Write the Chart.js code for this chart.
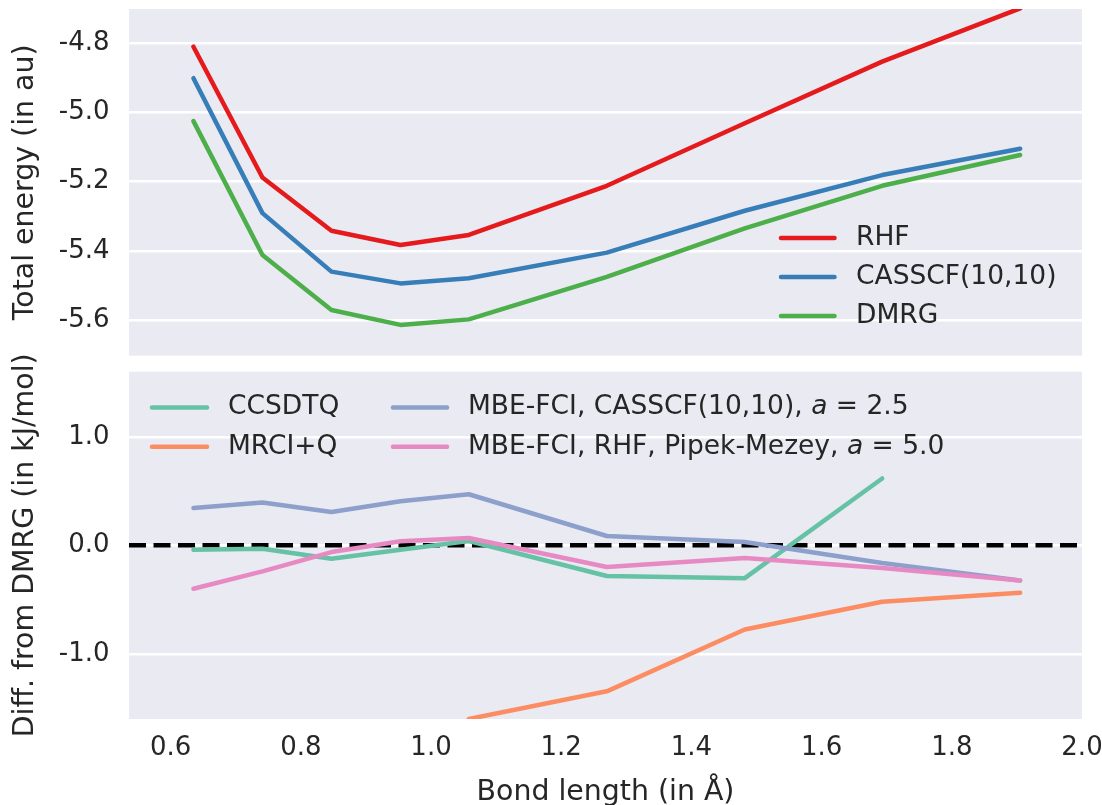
<!DOCTYPE html>
<html><head><meta charset="utf-8">
<script src="https://cdn.jsdelivr.net/npm/chart.js@4.4.1/dist/chart.umd.min.js"></script>
<style>
html,body{margin:0;padding:0;background:#fff;}
#wrap{position:relative;width:1102px;height:805px;overflow:hidden;}
#c1{position:absolute;left:0;top:0;}
#c2{position:absolute;left:0;top:335px;}
</style></head><body>
<div id="wrap"><canvas id="c1" width="1102" height="365"></canvas><canvas id="c2" width="1102" height="470"></canvas></div>
<script>
// ---- data ----
const bondLengths = [0.635, 0.741, 0.847, 0.953, 1.058, 1.270, 1.482, 1.693, 1.905];

const energyLabels = ['RHF', 'CASSCF(10,10)', 'DMRG'];
const rhfEnergy     = [-4.810, -5.188, -5.342, -5.383, -5.354, -5.212, -5.031, -4.853, -4.699];
const casscfEnergy  = [-4.901, -5.291, -5.460, -5.494, -5.479, -5.405, -5.284, -5.181, -5.105];
const dmrgEnergy    = [-5.025, -5.412, -5.571, -5.614, -5.598, -5.475, -5.335, -5.212, -5.123];

const diffLabels = ['CCSDTQ', 'MRCI+Q', 'MBE-FCI, CASSCF(10,10), a = 2.5', 'MBE-FCI, RHF, Pipek-Mezey, a = 5.0'];
const ccsdtqDiff   = [-0.040, -0.031, -0.123, -0.040, 0.040, -0.282, -0.302, 0.616, null];
const mrciqDiff    = [null, null, null, null, -1.60, -1.345, -0.776, -0.520, -0.437];
const mbeCasDiff   = [0.344, 0.394, 0.308, 0.406, 0.471, 0.086, 0.031, -0.163, -0.323];
const mbeRhfDiff   = [-0.400, -0.240, -0.062, 0.037, 0.068, -0.200, -0.117, -0.209, -0.323];
const referenceLine = 0.0;

const xTicks = [0.6, 0.8, 1.0, 1.2, 1.4, 1.6, 1.8, 2.0];
const energyTicks = [-4.8, -5.0, -5.2, -5.4, -5.6];
const diffTicks = [1.0, 0.0, -1.0];
const xLimits = [0.536, 2.0];
const energyLimits = [-5.703, -4.701];
const diffLimits = [-1.6, 1.6];

// ---- styling ----
const TXT = '#262626';
const FONT = '"DejaVu Sans", "Liberation Sans", sans-serif';
const LEG_SIZE = 26.5;
const energyColors = ['#E41A1C', '#377EB8', '#4DAF4A'];
const diffColors = ['#66C2A5', '#FC8D62', '#8DA0CB', '#E78AC3'];

function pts(ys) { return bondLengths.map((x, i) => ({x: x, y: ys[i]})); }

const bgPlugin = {
  id: 'bg',
  beforeDraw(chart) {
    const a = chart.chartArea, ctx = chart.ctx;
    ctx.save(); ctx.fillStyle = '#EAEAF2';
    ctx.fillRect(a.left, a.top, a.right - a.left, a.bottom - a.top);
    ctx.restore();
  }
};

function drawLabel(ctx, text, x, y) {
  const m = text.match(/^(.*, )a( = .*)$/);
  ctx.font = LEG_SIZE + 'px ' + FONT;
  if (!m) { ctx.fillText(text, x, y); return; }
  ctx.fillText(m[1], x, y);
  let cx = x + ctx.measureText(m[1]).width;
  ctx.font = 'italic ' + LEG_SIZE + 'px ' + FONT;
  ctx.fillText('a', cx, y);
  cx += ctx.measureText('a').width;
  ctx.font = LEG_SIZE + 'px ' + FONT;
  ctx.fillText(m[2], cx, y);
}

function legendPlugin(entries) {
  return {
    id: 'customLegend',
    afterDraw(chart) {
      const ctx = chart.ctx;
      ctx.save();
      entries.forEach(e => {
        const ds = chart.data.datasets[e.index];
        ctx.strokeStyle = ds.borderColor; ctx.lineWidth = 4.5; ctx.lineCap = 'round';
        ctx.beginPath(); ctx.moveTo(e.x1, e.y); ctx.lineTo(e.x2, e.y); ctx.stroke();
        ctx.fillStyle = TXT; ctx.textBaseline = 'middle'; ctx.textAlign = 'left';
        drawLabel(ctx, ds.label, e.tx, e.y);
      });
      ctx.restore();
    }
  };
}

function lineDs(label, ys, color, order) {
  return {label: label, data: pts(ys), borderColor: color, backgroundColor: color,
    borderWidth: 4.5, pointRadius: 0, pointHoverRadius: 0, tension: 0, fill: false,
    borderCapStyle: 'round', borderJoinStyle: 'round', clip: 0, order: order, spanGaps: false};
}

function noPad(s) { s.paddingTop = 0; s.paddingBottom = 0; s.paddingLeft = 0; s.paddingRight = 0; }

function yScale(limits, ticks, title, padTop) {
  return {
    type: 'linear', min: limits[0], max: limits[1],
    afterBuildTicks: s => { s.ticks = ticks.map(v => ({value: v})); },
    afterFit: s => { s.width = 129; noPad(s); },
    grid: {color: '#FFFFFF', lineWidth: 2.5, drawTicks: false},
    border: {display: false},
    ticks: {color: TXT, font: {family: FONT, size: 26}, padding: 19.5, callback: v => Number(v).toFixed(1)},
    title: {display: true, text: title, color: TXT, font: {family: FONT, size: 28.4}, padding: {top: padTop, bottom: 0}}
  };
}

// ---- top chart ----
new Chart(document.getElementById('c1'), {
  type: 'line',
  data: {datasets: [
    lineDs(energyLabels[0], rhfEnergy, energyColors[0], 3),
    lineDs(energyLabels[1], casscfEnergy, energyColors[1], 2),
    lineDs(energyLabels[2], dmrgEnergy, energyColors[2], 1)
  ]},
  options: {
    responsive: false, animation: false, events: [],
    layout: {padding: {left: 0, top: 9, right: 20, bottom: 9.3}},
    plugins: {legend: {display: false}, tooltip: {enabled: false}},
    scales: {
      x: {type: 'linear', display: false, min: xLimits[0], max: xLimits[1]},
      y: yScale(energyLimits, energyTicks, 'Total energy (in au)', 9)
    }
  },
  plugins: [bgPlugin, legendPlugin([
    {index: 0, x1: 781, x2: 834.5, tx: 856, y: 238},
    {index: 1, x1: 781, x2: 834.5, tx: 856, y: 277},
    {index: 2, x1: 781, x2: 834.5, tx: 856, y: 316}
  ])]
});

// ---- bottom chart (canvas offset 335px) ----
const refDs = {label: 'ref', data: [{x: xLimits[0], y: referenceLine}, {x: xLimits[1], y: referenceLine}],
  borderColor: '#000000', borderWidth: 4.5, borderDash: [17, 7.5], borderCapStyle: 'butt',
  pointRadius: 0, pointHoverRadius: 0, fill: false, clip: 0, order: 10};

new Chart(document.getElementById('c2'), {
  type: 'line',
  data: {datasets: [
    lineDs(diffLabels[0], ccsdtqDiff, diffColors[0], 5),
    lineDs(diffLabels[1], mrciqDiff, diffColors[1], 4),
    lineDs(diffLabels[2], mbeCasDiff, diffColors[2], 3),
    lineDs(diffLabels[3], mbeRhfDiff, diffColors[3], 2),
    refDs
  ]},
  options: {
    responsive: false, animation: false, events: [],
    layout: {padding: {left: 0, top: 36.7, right: 20, bottom: 0}},
    plugins: {legend: {display: false}, tooltip: {enabled: false}},
    scales: {
      x: {
        type: 'linear', min: xLimits[0], max: xLimits[1],
        afterBuildTicks: s => { s.ticks = xTicks.map(v => ({value: v})); },
        afterFit: s => { s.height = 86; noPad(s); },
        grid: {display: false, drawTicks: false},
        border: {display: false},
        ticks: {color: TXT, font: {family: FONT, size: 26}, padding: 14, maxRotation: 0, autoSkip: false,
          callback: v => Number(v).toFixed(1)},
        title: {display: true, text: 'Bond length (in Å)', color: TXT, font: {family: FONT, size: 28.4}, padding: {top: 0, bottom: -5}}
      },
      y: yScale(diffLimits, diffTicks, 'Diff. from DMRG (in kJ/mol)', 9)
    }
  },
  plugins: [bgPlugin, legendPlugin([
    {index: 0, x1: 152, x2: 207, tx: 228, y: 72.5},
    {index: 1, x1: 152, x2: 207, tx: 228, y: 111.7},
    {index: 2, x1: 393, x2: 447, tx: 468, y: 72.5},
    {index: 3, x1: 393, x2: 447, tx: 468, y: 111.7}
  ])]
});
</script>
</body></html>
